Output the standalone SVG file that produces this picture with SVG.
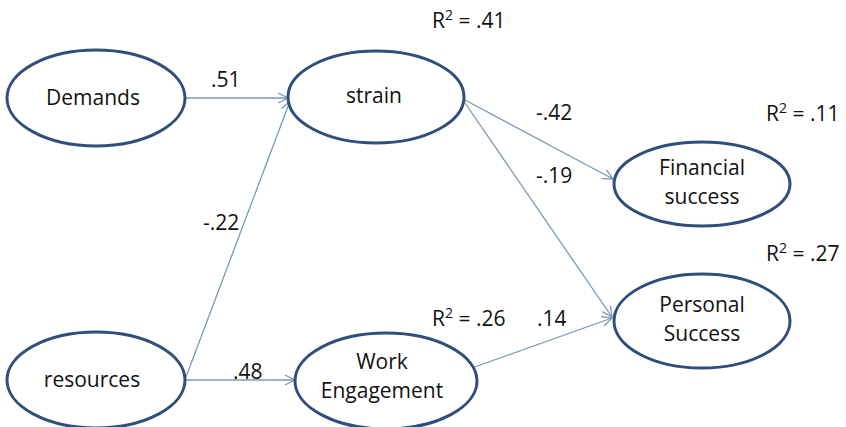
<svg xmlns="http://www.w3.org/2000/svg" width="846" height="427" viewBox="0 0 846 427">
<defs>
<style>
.node ellipse{fill:#fff;stroke:#2f4f7a;stroke-width:3}
text{font-family:"Open Sans","Noto Sans","Liberation Sans",sans-serif;font-size:21px;fill:#111}
.nt{text-anchor:middle}
.edge{stroke:#7c98b6;stroke-width:1.3;fill:none;marker-end:url(#arr)}
</style>
<marker id="arr" viewBox="0 0 12 12" refX="11" refY="6" markerWidth="12" markerHeight="12" markerUnits="userSpaceOnUse" orient="auto">
<path d="M1,1 L11,6 L1,11" fill="none" stroke="#7c98b6" stroke-width="1.3"/>
</marker>
</defs>
<rect width="846" height="427" fill="#fff"/>
<g id="connectors">
<line class="edge" x1="185" y1="98" x2="288" y2="98"/>
<line class="edge" x1="186" y1="377" x2="290" y2="101"/>
<line class="edge" x1="186" y1="380" x2="295" y2="380"/>
<line class="edge" x1="465" y1="100" x2="613" y2="179"/>
<line class="edge" x1="465" y1="103" x2="612" y2="317"/>
<line class="edge" x1="472" y1="368" x2="612" y2="318"/>
</g>
<g id="demands" class="node"><ellipse cx="96" cy="98" rx="89" ry="48"/><text class="nt" x="93" y="105">Demands</text></g>
<g id="strain" class="node"><ellipse cx="376" cy="97" rx="88" ry="46"/><text class="nt" x="374" y="103">strain</text></g>
<g id="financial" class="node"><ellipse cx="702" cy="184" rx="88" ry="42"/><text class="nt" x="702" y="175">Financial</text><text class="nt" x="702" y="204">success</text></g>
<g id="personal" class="node"><ellipse cx="702" cy="321" rx="88" ry="47"/><text class="nt" x="702" y="312">Personal</text><text class="nt" x="702" y="341">Success</text></g>
<g id="resources" class="node"><ellipse cx="96" cy="380" rx="89" ry="48"/><text class="nt" x="92" y="387">resources</text></g>
<g id="engagement" class="node"><ellipse cx="386" cy="381" rx="91" ry="48"/><text class="nt" x="382" y="369">Work</text><text class="nt" x="382" y="398">Engagement</text></g>
<g id="labels">
<text x="211" y="87">.51</text>
<text x="432" y="28">R<tspan font-size="14" dy="-8">2</tspan><tspan dy="8"> = .41</tspan></text>
<text x="536" y="120">-.42</text>
<text x="766" y="121">R<tspan font-size="14" dy="-8">2</tspan><tspan dy="8"> = .11</tspan></text>
<text x="536" y="183">-.19</text>
<text x="203" y="230">-.22</text>
<text x="766" y="261">R<tspan font-size="14" dy="-8">2</tspan><tspan dy="8"> = .27</tspan></text>
<text x="432" y="326">R<tspan font-size="14" dy="-8">2</tspan><tspan dy="8"> = .26</tspan></text>
<text x="537" y="326">.14</text>
<text x="233" y="379">.48</text>
</g>
</svg>
